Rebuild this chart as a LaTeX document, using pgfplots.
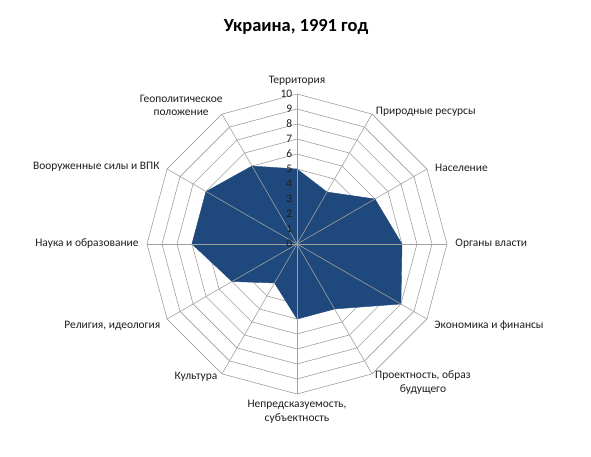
\documentclass[border=0pt]{standalone}
\usepackage{pgfplots}
\pgfplotsset{compat=1.18}
\usepackage{fontspec}
\setmainfont{Carlito}
\definecolor{fillblue}{RGB}{31,73,125}
\definecolor{gridgray}{RGB}{160,160,160}
\definecolor{labtext}{RGB}{30,30,30}

\begin{document}
\begin{tikzpicture}
\fill[white] (0,0) rectangle (591bp,457bp);
\node[font=\fontsize{18.5}{22}\selectfont\bfseries] at (296bp,430bp) {Украина, 1991 год};
\begin{axis}[
    at={(297bp,213bp)}, anchor=origin,
    x=15bp, y=15bp,
    xmin=-10, xmax=10, ymin=-10, ymax=10,
    hide axis, clip=false,
    data cs=polar,
    every axis plot/.append style={mark=none},
]
% rings
\pgfplotsinvokeforeach{1,...,10}{
  \addplot[gridgray, line width=0.6pt] coordinates {
    (90,#1) (60,#1) (30,#1) (0,#1) (-30,#1) (-60,#1)
    (-90,#1) (-120,#1) (-150,#1) (-180,#1) (-210,#1) (-240,#1) (90,#1)};
}
% series
\addplot[fill=fillblue, draw=fillblue, line width=0.4pt] coordinates {
    (90,5) (60,4) (30,6) (0,7) (-30,8) (-60,5)
    (-90,5) (-120,3) (-150,5) (-180,7) (-210,7) (-240,6)} --cycle;
% spokes
\pgfplotsinvokeforeach{90,60,30,0,-30,-60,-90,-120,-150,-180,-210,-240}{
  \addplot[gridgray, line width=0.6pt] coordinates {(#1,0) (#1,10)};
}
% value labels
\pgfplotsinvokeforeach{0,...,10}{
  \node[anchor=east, inner sep=0pt, text=labtext, font=\fontsize{11.5}{12}\selectfont]
    at (axis cs:-0.3,#1) {#1};
}
\begin{scope}[every node/.style={text=labtext, font=\fontsize{11.5}{13.5}\selectfont, inner sep=0pt, align=center}]
\node[anchor=south] at (axis cs:0,10.55) {Территория};
\node[anchor=south west] at (axis cs:5.25,8.5) {Природные ресурсы};
\node[anchor=west] at (axis cs:9.2,5.05) {Население};
\node[anchor=west] at (axis cs:10.55,0) {Органы власти};
\node[anchor=west] at (axis cs:9.15,-5.45) {Экономика и финансы};
\node[anchor=north west] at (axis cs:5.2,-8.45) {Проектность, образ\\будущего};
\node[anchor=north] at (axis cs:0,-10.4) {Непредсказуемость,\\субъектность};
\node[anchor=north east] at (axis cs:-5.3,-8.55) {Культура};
\node[anchor=east] at (axis cs:-9.1,-5.45) {Религия, идеология};
\node[anchor=east] at (axis cs:-10.55,0) {Наука и образование};
\node[anchor=east] at (axis cs:-9.15,5.15) {Вооруженные силы и ВПК};
\node[anchor=south east] at (axis cs:-4.95,8.55) {Геополитическое\\положение};
\end{scope}
\end{axis}
\pgfresetboundingbox
\path[use as bounding box] (0,0) rectangle (591bp,457bp);
\end{tikzpicture}
\end{document}
